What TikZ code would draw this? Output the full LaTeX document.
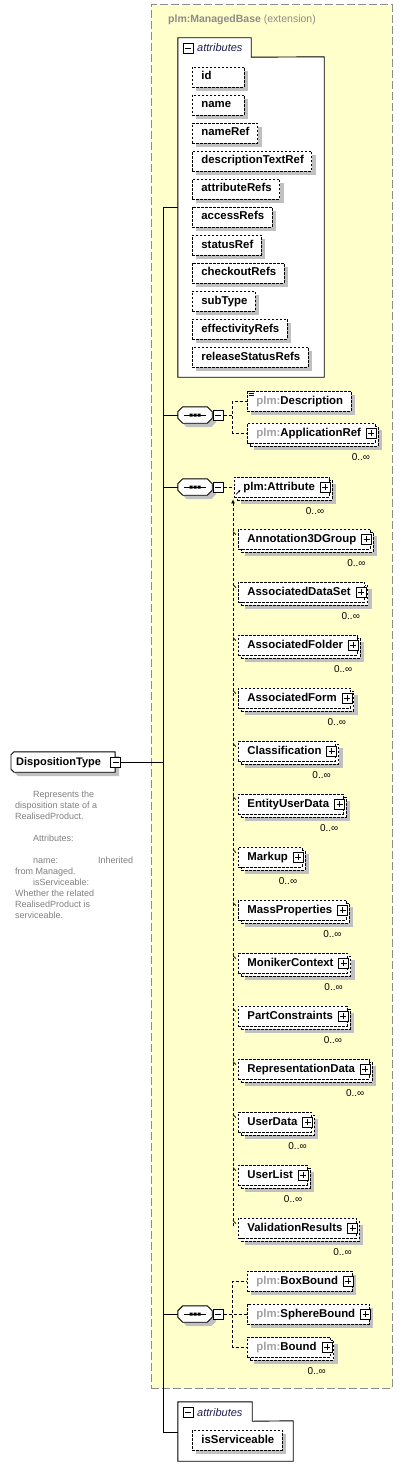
\documentclass[tikz,border=0pt]{standalone}
\usepackage{fontspec}
\setmainfont{Liberation Sans}
\usetikzlibrary{arrows.meta}
\definecolor{extfill}{HTML}{FFFFCC}
\definecolor{extborder}{HTML}{8C8C8C}
\definecolor{shadowgray}{HTML}{C0C0C0}
\definecolor{prefixgray}{HTML}{A0A0A0}
\definecolor{descgray}{HTML}{7F7F7F}
\definecolor{tabtext}{HTML}{1E1E50}
\pgfdeclarelayer{bg}
\pgfsetlayers{bg,main}
\newcommand\pfx{\textcolor{prefixgray}{plm:}}
\newcommand\drawplus[1]{\draw[line width=0.9pt] ([xshift=-3pt]#1.center) -- ([xshift=3pt]#1.center) ([yshift=-3pt]#1.center) -- ([yshift=3pt]#1.center);}
\newcommand\drawminus[1]{\draw[line width=0.9pt] ([xshift=-3pt]#1.center) -- ([xshift=3pt]#1.center);}
\newcommand\elM[4]{%
  \node[elem,multi] (#1) at (#2,#3) {\hspace*{9pt}#4\hspace*{14pt}};
  \node[pmb] (#1-p) at ([xshift=-4pt]#1.east) {};
  \drawplus{#1-p}
  \node[occ] (#1-o) at ([xshift=-5pt,yshift=-17.5pt]#1.south east) {0..∞};}
\newcommand\elP[4]{%
  \node[elem,single] (#1) at (#2,#3) {\hspace*{9pt}#4\hspace*{14pt}};
  \node[pmb] (#1-p) at ([xshift=-4pt]#1.east) {};
  \drawplus{#1-p}}
\newcommand\elS[4]{%
  \node[elem,single] (#1) at (#2,#3) {\hspace*{9pt}#4\hspace*{8pt}};}
\newcommand\attrel[3]{%
  \node[elem,single] (#1) at (192,#2) {\hspace*{9pt}#3\hspace*{8pt}};}
\newcommand\subel[3]{%
  \elM{#1}{238}{#2}{#3}
  \draw[line width=0.6pt] ([shift={(-5pt,-3pt)}]#1.north west) -- ([shift={(-2pt,-6pt)}]#1.north west);}
\newcommand\compo[2]{%
  \node[minimum width=34pt, minimum height=16pt, inner sep=0pt] (#1) at (195,#2) {};
  \fill[shadowgray, transform canvas={shift={(4pt,-4pt)}}] ([xshift=5pt]#1.north west) -- ([xshift=-5pt]#1.north east) -- ([yshift=-5pt]#1.north east) -- ([yshift=5pt]#1.south east) -- ([xshift=-5pt]#1.south east) -- ([xshift=5pt]#1.south west) -- ([yshift=5pt]#1.south west) -- ([yshift=-5pt]#1.north west) -- cycle;
  \filldraw[fill=white, line width=0.9pt] ([xshift=5pt]#1.north west) -- ([xshift=-5pt]#1.north east) -- ([yshift=-5pt]#1.north east) -- ([yshift=5pt]#1.south east) -- ([xshift=-5pt]#1.south east) -- ([xshift=5pt]#1.south west) -- ([yshift=5pt]#1.south west) -- ([yshift=-5pt]#1.north west) -- cycle;
  \draw[line width=1pt] ([xshift=-11pt]#1.center) -- ([xshift=11pt]#1.center);
  \fill ([shift={(-5.5pt,-1.5pt)}]#1.center) rectangle ([shift={(-2.5pt,1.5pt)}]#1.center)
        ([shift={(-1.5pt,-1.5pt)}]#1.center) rectangle ([shift={(1.5pt,1.5pt)}]#1.center)
        ([shift={(2.5pt,-1.5pt)}]#1.center) rectangle ([shift={(5.5pt,1.5pt)}]#1.center);
  \node[pmb] (#1-m) at ([xshift=6pt]#1.east) {};
  \drawminus{#1-m}
  \draw[conn] (#1.west) -- (#1.west -| vtop);}
\begin{document}
\begin{tikzpicture}[x=1pt,y=-1pt,
  conn/.style={line width=1pt, draw=black},
  dconn/.style={line width=0.8pt, draw=black, dash pattern=on 3pt off 2pt},
  elem/.style={draw=black, line width=0.8pt, dash pattern=on 2.5pt off 1.5pt, fill=white, minimum height=20pt, inner xsep=0pt, inner ysep=0pt, anchor=west, text height=8pt, text depth=2pt, font=\fontsize{11.4}{13}\selectfont\bfseries},
  single/.style={preaction={draw=none, fill=shadowgray, transform canvas={shift={(4pt,-4pt)}}}},
  multi/.style={preaction={draw=none, fill=shadowgray, transform canvas={shift={(7pt,-7pt)}}}, preaction={draw=black, line width=0.8pt, dash pattern=on 2.5pt off 1.5pt, fill=white, transform canvas={shift={(3pt,-3pt)}}}},
  pmb/.style={draw=black, solid, line width=0.9pt, fill=white, minimum size=10pt, inner sep=0pt},
  occ/.style={anchor=base east, inner sep=0pt, font=\fontsize{10}{11}\selectfont},
]
\useasboundingbox (0,0) rectangle (403,1479);

% extension area
\node[draw=extborder, fill=extfill, line width=1pt, dash pattern=on 8pt off 3pt, minimum width=241pt, minimum height=1383pt, inner sep=0pt] (ext) at (271.5,696.5) {};
\node[anchor=base west, inner sep=0pt, text=extborder, font=\fontsize{10.5}{12}\selectfont] (ext-title) at (168,23) {\textbf{plm:ManagedBase} (extension)};

% main bus
\coordinate (vtop) at (163,208);
\coordinate (vbot) at (163,1432);
\draw[conn] (vtop) -- (vbot);

% top attributes group
\node[minimum width=146pt, minimum height=320pt, inner sep=0pt] (ab1) at (251,217) {};
\node[minimum width=73pt, minimum height=19pt, inner sep=0pt] (ab1tab) at (214.5,47.5) {};
\draw[conn] (vtop) -- (vtop -| ab1.west);
\filldraw[fill=white, line width=0.9pt] (ab1.south west) -- (ab1tab.north west) -- (ab1tab.north east) -- (ab1tab.south east) -- (ab1.north east) -- (ab1.south east) -- cycle;
\node[pmb] (ab1-m) at (188,48) {};
\drawminus{ab1-m}
\node[anchor=base west, inner sep=0pt, text=tabtext, font=\fontsize{11}{13}\selectfont\itshape] (ab1-t) at (197,52) {attributes};
\attrel{a1}{77}{\makebox[35pt][l]{id}}
\attrel{a2}{105}{\makebox[35pt][l]{name}}
\attrel{a3}{133}{nameRef}
\attrel{a4}{161}{descriptionTextRef}
\attrel{a5}{189}{attributeRefs}
\attrel{a6}{217}{accessRefs}
\attrel{a7}{245}{statusRef}
\attrel{a8}{273}{checkoutRefs}
\attrel{a9}{301}{subType}
\attrel{a10}{329}{effectivityRefs}
\attrel{a11}{357}{releaseStatusRefs}

% sequence 1
\compo{c1}{415}
\elS{edesc}{247}{401}{\pfx Description}
\draw[line width=0.6pt] ([shift={(2pt,-1pt)}]edesc.north west) -- ++(5pt,0pt) ([shift={(2pt,-3pt)}]edesc.north west) -- ++(5pt,0pt) ([shift={(2pt,-5pt)}]edesc.north west) -- ++(5pt,0pt);
\elM{eapp}{247}{433}{\pfx ApplicationRef}
\draw[dconn] (c1-m.east) -- ++(9,0) |- (edesc.west);
\draw[dconn] (c1-m.east) -- ++(9,0) |- (eapp.west);

% sequence 2
\compo{c2}{487}
\elM{eatt}{234}{487}{plm:Attribute}
\draw[dconn] (c2-m.east) -- (eatt.west);
\draw[-{Latex[length=2.5pt,width=2.5pt]}, line width=0.8pt] ([shift={(2pt,3pt)}]eatt.south west) -- ([shift={(6.5pt,7.5pt)}]eatt.south west);
\subel{s1}{539}{Annotation3DGroup}
\subel{s2}{592}{AssociatedDataSet}
\subel{s3}{645}{AssociatedFolder}
\subel{s4}{698}{AssociatedForm}
\subel{s5}{751}{Classification}
\subel{s6}{804}{EntityUserData}
\subel{s7}{857}{Markup}
\subel{s8}{910}{MassProperties}
\subel{s9}{963}{MonikerContext}
\subel{s10}{1016}{PartConstraints}
\subel{s11}{1069}{RepresentationData}
\subel{s12}{1122}{UserData}
\subel{s13}{1175}{UserList}
\subel{s14}{1228}{ValidationResults}
\draw[dconn, -{Latex[length=4pt,width=4pt]}] ([shift={(-5pt,-8pt)}]s14.north west) -- ([shift={(-1pt,-2pt)}]eatt.south west);

% sequence 3
\compo{c3}{1314}
\elP{bb}{247}{1281}{\pfx BoxBound}
\elP{sb}{247}{1314}{\pfx SphereBound}
\elM{bd}{247}{1347}{\pfx Bound}
\draw[dconn] (c3-m.east) -- ++(9,0) |- (bb.west);
\draw[dconn] (c3-m.east) -- (sb.west);
\draw[dconn] (c3-m.east) -- ++(9,0) |- (bd.west);

% bottom attributes group
\node[minimum width=115pt, minimum height=40pt, inner sep=0pt] (ab2) at (235.5,1441) {};
\node[minimum width=74pt, minimum height=19pt, inner sep=0pt] (ab2tab) at (215,1411.5) {};
\draw[conn] (vbot) -- (vbot -| ab2.west);
\filldraw[fill=white, line width=0.9pt] (ab2.south west) -- (ab2tab.north west) -- (ab2tab.north east) -- (ab2tab.south east) -- (ab2.north east) -- (ab2.south east) -- cycle;
\node[pmb] (ab2-m) at (188,1412) {};
\drawminus{ab2-m}
\node[anchor=base west, inner sep=0pt, text=tabtext, font=\fontsize{11}{13}\selectfont\itshape] (ab2-t) at (197,1416) {attributes};
\attrel{b1}{1440}{isServiceable}

% root element
\node[inner xsep=0pt, inner ysep=0pt, minimum height=20pt, anchor=west, text height=8pt, text depth=2pt, font=\fontsize{11}{13}\selectfont\bfseries] (dt) at (11,762) {\hspace*{5pt}DispositionType\hspace*{14pt}};
\begin{pgfonlayer}{bg}
\fill[shadowgray, transform canvas={shift={(4pt,-4pt)}}] ([xshift=3pt]dt.north west) -- (dt.north east) -- (dt.south east) -- ([xshift=3pt]dt.south west) -- ([yshift=3pt]dt.south west) -- ([yshift=-3pt]dt.north west) -- cycle;
\filldraw[fill=white, line width=0.9pt] ([xshift=3pt]dt.north west) -- (dt.north east) -- (dt.south east) -- ([xshift=3pt]dt.south west) -- ([yshift=3pt]dt.south west) -- ([yshift=-3pt]dt.north west) -- cycle;
\end{pgfonlayer}
\node[pmb] (dt-m) at ([xshift=0.5pt]dt.east) {};
\drawminus{dt-m}
\draw[conn] (dt-m.east) -- (dt-m.east -| vtop);
\node[anchor=north west, align=left, inner sep=0pt, text=descgray, font=\fontsize{9}{11}\selectfont] (dtdoc) at (15,791) {\hspace*{18pt}Represents the\\disposition state of a\\RealisedProduct.\\[11pt]\hspace*{18pt}Attributes:\\[11pt]\hspace*{18pt}\makebox[65pt][l]{name:}Inherited\\from Managed.\\\hspace*{18pt}isServiceable:\\Whether the related\\RealisedProduct is\\serviceable.};
\end{tikzpicture}
\end{document}
